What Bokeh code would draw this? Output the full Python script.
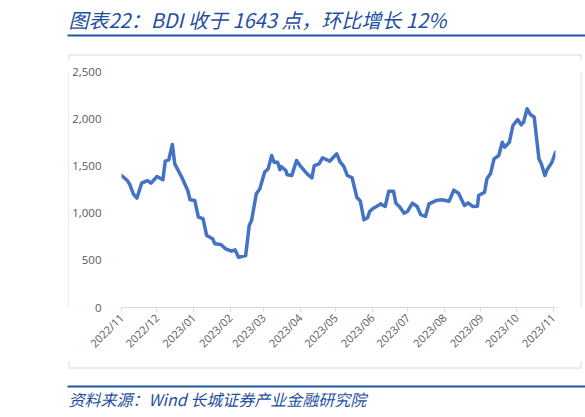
import math
import pandas as pd
from bokeh.plotting import figure
from bokeh.layouts import column, row
from bokeh.models import Range1d, FixedTicker, DatetimeTickFormatter, NumeralTickFormatter
from bokeh.embed import file_html
from bokeh.resources import INLINE
from bokeh.core.properties import value

# ---- data ----
dates = [
    "2022-11-01", "2022-11-06", "2022-11-08", "2022-11-11", "2022-11-14", "2022-11-18",
    "2022-11-23", "2022-11-26", "2022-12-01", "2022-12-06", "2022-12-08", "2022-12-11",
    "2022-12-14", "2022-12-16", "2022-12-22", "2022-12-27", "2022-12-29", "2023-01-02",
    "2023-01-05", "2023-01-09", "2023-01-12", "2023-01-17", "2023-01-19", "2023-01-24",
    "2023-01-28", "2023-02-02", "2023-02-05", "2023-02-08", "2023-02-14", "2023-02-17",
    "2023-02-19", "2023-02-23", "2023-02-26", "2023-03-02", "2023-03-05", "2023-03-08",
    "2023-03-10", "2023-03-13", "2023-03-15", "2023-03-16", "2023-03-20", "2023-03-21",
    "2023-03-25", "2023-03-29", "2023-04-01", "2023-04-07", "2023-04-11", "2023-04-13",
    "2023-04-17", "2023-04-20", "2023-04-26", "2023-05-02", "2023-05-05", "2023-05-08",
    "2023-05-11", "2023-05-15", "2023-05-19", "2023-05-22", "2023-05-25", "2023-05-28",
    "2023-05-30", "2023-06-02", "2023-06-06", "2023-06-08", "2023-06-12", "2023-06-15",
    "2023-06-19", "2023-06-21", "2023-06-24", "2023-06-28", "2023-07-01", "2023-07-05",
    "2023-07-09", "2023-07-12", "2023-07-16", "2023-07-19", "2023-07-25", "2023-07-30",
    "2023-08-05", "2023-08-09", "2023-08-13", "2023-08-18", "2023-08-21", "2023-08-25",
    "2023-08-29", "2023-08-30", "2023-09-04", "2023-09-06", "2023-09-09", "2023-09-12",
    "2023-09-16", "2023-09-19", "2023-09-21", "2023-09-25", "2023-09-28", "2023-10-02",
    "2023-10-05", "2023-10-07", "2023-10-10", "2023-10-13", "2023-10-16", "2023-10-20",
    "2023-10-22", "2023-10-25", "2023-10-27", "2023-10-31", "2023-11-03",
]
bdi = [
    1398, 1345, 1303, 1204, 1158, 1317,
    1345, 1317, 1388, 1353, 1550, 1565,
    1727, 1522, 1380, 1239, 1141, 1133,
    957, 940, 763, 728, 675, 667,
    622, 596, 611, 533, 551, 869,
    922, 1204, 1257, 1433, 1469, 1610,
    1539, 1539, 1459, 1494, 1451, 1406,
    1398, 1557, 1504, 1416, 1374, 1504,
    1522, 1586, 1550, 1628, 1539, 1494,
    1398, 1374, 1168, 1126, 929, 950,
    1020, 1052, 1080, 1098, 1070, 1232,
    1232, 1105, 1070, 999, 1020, 1105,
    1070, 985, 964, 1098, 1133, 1141,
    1126, 1243, 1211, 1080, 1109, 1070,
    1073, 1186, 1221, 1363, 1416, 1575,
    1610, 1751, 1698, 1751, 1928, 1991,
    1935, 1963, 2105, 2041, 2016, 1575,
    1522, 1398, 1462, 1539, 1643,
]
month_ticks = [
    "2022-11-01", "2022-12-01", "2023-01-01", "2023-02-01", "2023-03-01", "2023-04-01",
    "2023-05-01", "2023-06-01", "2023-07-01", "2023-08-01", "2023-09-01", "2023-10-01",
    "2023-11-01",
]
y_ticks = [0, 500, 1000, 1500, 2000, 2500]
title_text = "图表22：BDI 收于 1643 点，环比增长 12%"
source_text = "资料来源：Wind 长城证券产业金融研究院"

BLUE_TXT = "#1E50A0"
BLUE_RULE = "#1F56A4"
BOX = "#D9D9D9"
PAGE_W = 585


def decor(w, h):
    f = figure(width=w, height=h, output_backend="svg", toolbar_location=None, title=None,
               x_range=Range1d(0, w), y_range=Range1d(h, 0),
               x_axis_location=None, y_axis_location=None,
               min_border=0, min_border_left=0, min_border_right=0,
               min_border_top=0, min_border_bottom=0)
    f.grid.visible = False
    f.outline_line_color = None
    f.background_fill_color = "white"
    f.border_fill_color = "white"
    return f


# ---- top strip: title, rule, top of chart box ----
TOP_H = 60
top = decor(PAGE_W, TOP_H)
top.text(x=[68], y=[19], text=[title_text], text_font=value("Noto Sans CJK SC"),
         text_font_style="italic", text_font_size="20px", text_color=BLUE_TXT,
         text_baseline="middle", text_align="left")
top.quad(left=[67], right=[PAGE_W], top=[34], bottom=[36], fill_color=BLUE_RULE, line_color=None)
top.segment(x0=[68, 68.5, 580.5], y0=[54.5, 54, 54], x1=[581, 68.5, 580.5], y1=[54.5, TOP_H, TOP_H],
            line_color=BOX, line_width=1)

# ---- middle: box sides and main chart ----
MID_H = 301
left_strip = decor(69, MID_H)
left_strip.segment(x0=[68.5], y0=[0], x1=[68.5], y1=[MID_H], line_color=BOX, line_width=1)
right_strip = decor(5, MID_H)
right_strip.segment(x0=[0.5], y0=[0], x1=[0.5], y1=[MID_H], line_color=BOX, line_width=1)

x = pd.to_datetime(dates)
p = figure(width=511, height=MID_H, output_backend="svg", toolbar_location=None, title=None,
           x_axis_type="datetime",
           x_range=Range1d(pd.Timestamp("2022-11-01"), pd.Timestamp("2023-11-03")),
           y_range=Range1d(0, 2500),
           min_border_left=52, min_border_right=25, min_border_top=11, min_border_bottom=54)
p.outline_line_color = None
p.grid.visible = False
p.background_fill_color = "white"
p.border_fill_color = "white"

p.line(x, bdi, line_color="#4472C4", line_width=3.5, line_join="round", line_cap="round")

xa = p.xaxis[0]
xa.ticker = FixedTicker(ticks=[pd.Timestamp(t).value / 1e6 for t in month_ticks])
xa.formatter = DatetimeTickFormatter(days="%Y/%m", months="%Y/%m", years="%Y/%m",
                                     hours="%Y/%m", minutes="%Y/%m", seconds="%Y/%m",
                                     milliseconds="%Y/%m", microseconds="%Y/%m")
xa.major_label_orientation = math.pi / 4
xa.major_label_text_color = "#595959"
xa.major_label_text_font = "Open Sans"
xa.major_label_text_font_size = "11px"
xa.axis_line_color = BOX
xa.major_tick_line_color = BOX
xa.major_tick_in = 0
xa.major_tick_out = 4
xa.minor_tick_line_color = None
xa.major_label_standoff = 4

ya = p.yaxis[0]
ya.ticker = FixedTicker(ticks=y_ticks)
ya.formatter = NumeralTickFormatter(format="0,0")
ya.axis_line_color = None
ya.major_tick_line_color = None
ya.minor_tick_line_color = None
ya.major_label_text_color = "#595959"
ya.major_label_text_font = "Open Sans"
ya.major_label_text_font_size = "11.5px"
ya.major_label_standoff = 14

# ---- bottom strip: bottom of chart box, rule, source ----
BOT_H = 417 - TOP_H - MID_H
bot = decor(PAGE_W, BOT_H)
bot.segment(x0=[68.5, 580.5, 68], y0=[0, 0, 6.5], x1=[68.5, 580.5, 581], y1=[6.5, 6.5, 6.5],
            line_color=BOX, line_width=1)
bot.quad(left=[67], right=[PAGE_W], top=[24], bottom=[26], fill_color=BLUE_RULE, line_color=None)
bot.text(x=[68], y=[37], text=[source_text], text_font=value("Noto Sans CJK SC"),
         text_font_style="italic", text_font_size="16px", text_color=BLUE_TXT,
         text_baseline="middle", text_align="left")

layout = column(top, row(left_strip, p, right_strip, spacing=0), bot, spacing=0)
open("out.html", "w").write(file_html(layout, INLINE))
